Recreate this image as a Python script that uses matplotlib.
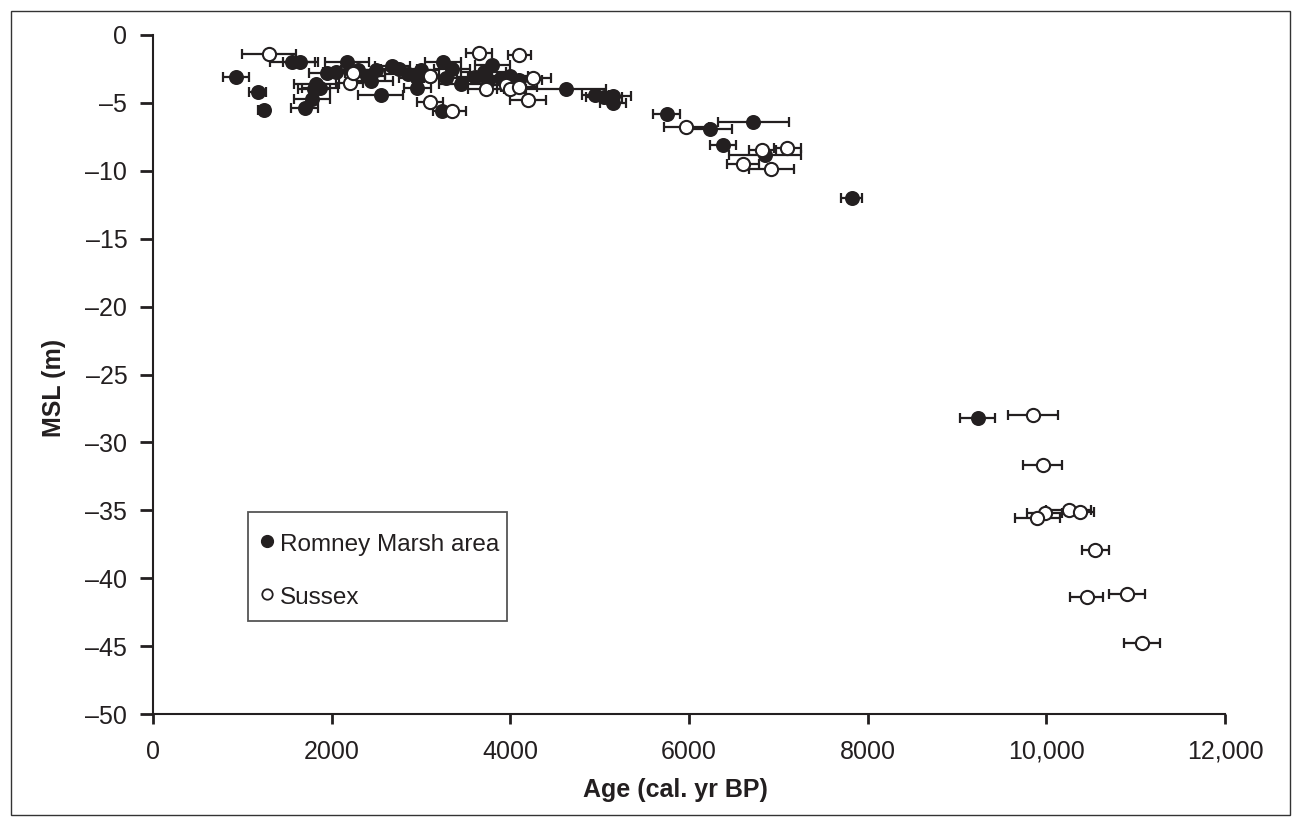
import matplotlib
matplotlib.use("Agg")
import matplotlib.pyplot as plt
from matplotlib.patches import Rectangle
from matplotlib.lines import Line2D
from matplotlib.ticker import FuncFormatter

plt.rcParams['font.family'] = ['Liberation Sans', 'DejaVu Sans']

# Romney Marsh area (filled)
rm_age = [930, 1170, 1240, 1560, 1650, 1700, 1780, 1800, 1830, 1870, 1950, 2050, 2170, 2300,
          2400, 2440, 2550, 2500, 2680, 2750, 2850, 2950, 3000, 2960, 3100, 3250, 3230, 3280,
          3350, 3450, 3600, 3700, 3800, 3750, 3900, 4000, 4100, 4620, 4950, 5050, 5150, 5150,
          5750, 6230, 6720, 6380, 6850, 7820, 9230]
rm_msl = [-3.1, -4.2, -5.5, -2.0, -2.0, -5.4, -4.7, -4.0, -3.6, -3.9, -2.8, -2.7, -2.0, -2.6,
          -3.0, -3.4, -4.4, -2.6, -2.3, -2.5, -2.9, -3.2, -2.6, -3.9, -3.0, -2.0, -5.6, -3.2,
          -2.5, -3.6, -3.1, -2.7, -2.2, -3.4, -3.2, -3.0, -3.3, -4.0, -4.4, -4.6, -4.5, -5.0,
          -5.8, -6.9, -6.4, -8.1, -8.8, -12.0, -28.2]
rm_err = [150, 100, 60, 250, 200, 150, 200, 180, 250, 200, 200, 150, 250, 200,
          200, 250, 250, 200, 200, 200, 250, 200, 200, 150, 250, 200, 100, 250,
          200, 250, 200, 250, 200, 250, 200, 200, 250, 450, 150, 200, 200, 150,
          150, 250, 400, 150, 400, 120, 200]

# Sussex (open)
sx_age = [1300, 2200, 2240, 3100, 3350, 3100, 3650, 4100, 3730, 3950, 4000, 4100, 4250, 4200,
          5970, 6600, 6820, 7100, 6920, 9850, 9960, 10250, 10380, 9980, 9900, 10550, 10450,
          10900, 11070]
sx_msl = [-1.4, -3.5, -2.8, -4.9, -5.6, -3.0, -1.3, -1.5, -4.0, -3.7, -4.0, -3.8, -3.2, -4.8,
          -6.8, -9.5, -8.5, -8.3, -9.9, -28.0, -31.7, -35.0, -35.1, -35.2, -35.6, -37.9, -41.4,
          -41.2, -44.8]
sx_err = [300, 150, 200, 150, 150, 200, 150, 130, 200, 150, 150, 200, 200, 200,
          250, 180, 150, 150, 250, 280, 220, 250, 150, 200, 250, 150, 180,
          200, 200]

x_ticks = [0, 2000, 4000, 6000, 8000, 10000, 12000]
y_ticks = [0, -5, -10, -15, -20, -25, -30, -35, -40, -45, -50]
labels = ['Romney Marsh area', 'Sussex']

W, H = 1300, 823
def fx(x):
    return x / W
def fy(y):
    return 1 - y / H

INK = '#231f20'
fig = plt.figure(figsize=(13, 8.23), dpi=100)
ax = fig.add_axes([fx(153), fy(714), (1225 - 153) / W, (714 - 35) / H])

fig.patches.append(Rectangle((fx(11), fy(815)), (1290 - 11) / W, (815 - 11) / H,
                             transform=fig.transFigure, fill=False,
                             edgecolor='#333333', linewidth=1.0))

ekw = dict(fmt='none', ecolor=INK, elinewidth=1.6, capsize=3.7, capthick=1.6, zorder=2)
ax.errorbar(rm_age, rm_msl, xerr=rm_err, **ekw)
ax.errorbar(sx_age, sx_msl, xerr=sx_err, **ekw)
ax.plot(rm_age, rm_msl, 'o', ms=9.5, mfc=INK, mec=INK, mew=1.3, ls='none', zorder=3)
ax.plot(sx_age, sx_msl, 'o', ms=9.5, mfc='white', mec=INK, mew=1.5, ls='none', zorder=3)

ax.set_xlim(0, 12000)
ax.set_ylim(-50, 0)
ax.set_xticks(x_ticks)
ax.set_yticks(y_ticks)
ax.xaxis.set_major_formatter(FuncFormatter(lambda v, p: f"{int(v):,}" if v >= 10000 else f"{int(v)}"))
ax.yaxis.set_major_formatter(FuncFormatter(lambda v, p: f"\u2013{abs(int(v))}" if v < 0 else f"{int(v)}"))
for s in ['top', 'right']:
    ax.spines[s].set_visible(False)
for s in ['left', 'bottom']:
    ax.spines[s].set_linewidth(1.5)
    ax.spines[s].set_color(INK)
ax.tick_params(axis='x', direction='out', length=7.5, width=2.0, labelsize=18, colors=INK, pad=11)
ax.tick_params(axis='y', direction='out', length=9.5, width=2.0, labelsize=18, colors=INK, pad=9)
ax.set_xlabel('Age (cal. yr BP)', fontsize=18, fontweight='bold', color=INK)
ax.set_ylabel('MSL (m)', fontsize=18, fontweight='bold', color=INK)
ax.xaxis.set_label_coords((675 - 153) / 1072, (714 - 778) / 679)
ax.yaxis.set_label_coords((66 - 153) / 1072, 0.48)

# legend box drawn in figure coordinates
fig.patches.append(Rectangle((fx(248), fy(621)), (507 - 248) / W, (621 - 512) / H,
                             transform=fig.transFigure, fill=False,
                             edgecolor='#555555', linewidth=1.3))
fig.lines.append(Line2D([fx(267)], [fy(541)], marker='o', ms=8.5, mfc=INK, mec=INK,
                        ls='none', transform=fig.transFigure))
fig.lines.append(Line2D([fx(267)], [fy(594)], marker='o', ms=7.5, mfc='white', mec=INK,
                        mew=1.3, ls='none', transform=fig.transFigure))
fig.text(fx(280), fy(545), labels[0], fontsize=17.5, color=INK, va='center', ha='left')
fig.text(fx(280), fy(598), labels[1], fontsize=17.5, color=INK, va='center', ha='left')

fig.savefig('out.png', dpi=100)
